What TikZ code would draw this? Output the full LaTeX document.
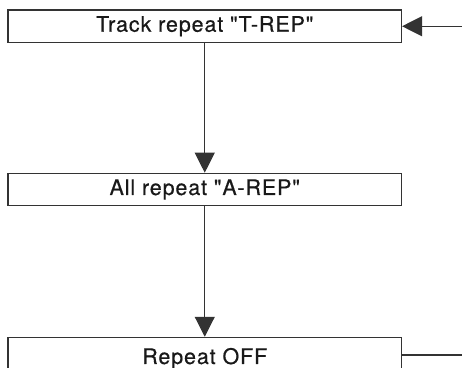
\documentclass[tikz,border=0pt]{standalone}
\usepackage{fontspec}
\setmainfont{TeX Gyre Heros}[LetterSpace=4,Ligatures=TeXOff,FakeBold=0.5]
\usetikzlibrary{arrows.meta}
\tikzset{
	repbox/.style={draw=black!80,line width=1.1pt,fill=white,
		minimum width=393.5pt,inner sep=0pt,
		font=\fontsize{21.5}{25}\selectfont,text=black!90},
	flow/.style={draw=black!80,line width=1.1pt,
		-{Triangle[length=20pt,width=20pt]}}
}
\begin{document}
			\begin{tikzpicture}[x=1pt,y=1pt]
				\useasboundingbox (0,0) rectangle (462,-367);
				\node[repbox,minimum height=32.5pt] (track) at (204.75,-26.25)
					{Track repeat "T-REP"};
				\node[repbox,minimum height=32.5pt] (all) at (204.75,-189.5)
					{All repeat "A-REP"};
				\node[repbox,minimum height=42pt] (off) at (204.75,-358.3)
					{Repeat OFF};
				\coordinate (loopin) at (462,-26.25);
				\coordinate (loopout) at (462,-355);
				\draw[flow] (track) -- (all);
				\draw[flow] (all) -- (off);
				\draw[flow] (loopin) -- (track);
				\draw[draw=black!80,line width=1.1pt] (loopout -| off.east) -- (loopout);
			\end{tikzpicture}
\end{document}
